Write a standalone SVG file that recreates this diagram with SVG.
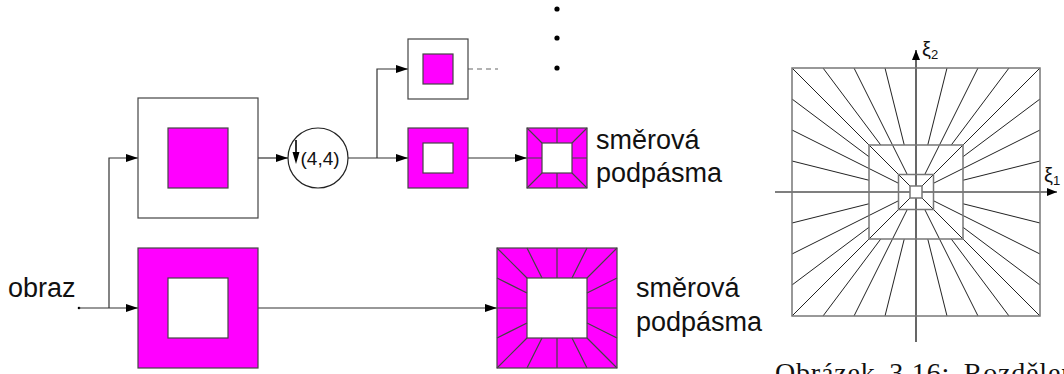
<svg xmlns="http://www.w3.org/2000/svg" width="1064" height="374" viewBox="0 0 1064 374">
  <style>
    .wire { fill: none; stroke: #333; stroke-width: 1.2; }
    .dash { fill: none; stroke: #666; stroke-width: 1.2; stroke-dasharray: 5 4; }
    .frame { stroke: #444; stroke-width: 1.2; }
    .pink { fill: #ff00ff; }
    .white { fill: #ffffff; }
    .ray { stroke: #222; stroke-width: 1; fill: none; }
    .sq { fill: none; stroke: #777; stroke-width: 1.5; }
    .lbl { font-family: "Liberation Sans", Arial, sans-serif; fill: #111; }
    .cap { font-family: "Liberation Serif", "Times New Roman", serif; fill: #111; }
  </style>
  <defs>
    <marker id="arr" viewBox="0 0 12 8" refX="12" refY="4" markerWidth="12" markerHeight="8" markerUnits="userSpaceOnUse" orient="auto">
      <path d="M0,0 L12,4 L0,8 Z" fill="#000"/>
    </marker>
    <marker id="arrS" viewBox="0 0 10 8" refX="10" refY="4" markerWidth="10" markerHeight="8" markerUnits="userSpaceOnUse" orient="auto">
      <path d="M0,0 L10,4 L0,8 Z" fill="#000"/>
    </marker>
  </defs>

  <rect width="1064" height="374" fill="#fff"/>

  <!-- signal flow -->
  <g id="connectors">
    <circle cx="79" cy="308" r="1.3" fill="#000"/>
    <path class="wire" d="M79,308 H138" marker-end="url(#arr)"/>
    <path class="wire" d="M109,308 V158 H138" marker-end="url(#arr)"/>
    <path class="wire" d="M258,158 H288" marker-end="url(#arr)"/>
    <path class="wire" d="M348,158 H408" marker-end="url(#arr)"/>
    <path class="wire" d="M377,158 V69 H408" marker-end="url(#arr)"/>
    <path class="wire" d="M468,158 H527" marker-end="url(#arr)"/>
    <path class="wire" d="M258,308 H497" marker-end="url(#arr)"/>
    <path class="dash" d="M468,69 H498"/>
  </g>

  <!-- continuation dots -->
  <g id="dots" fill="#000">
    <circle cx="557" cy="9" r="2.6"/>
    <circle cx="557" cy="38" r="2.6"/>
    <circle cx="557" cy="68" r="2.6"/>
  </g>

  <g id="lowpass">
    <rect class="white frame" x="138" y="98" width="120" height="120"/>
    <rect class="pink frame" x="168" y="128" width="60" height="60"/>
  </g>

  <g id="bandpass">
    <rect class="pink frame" x="138" y="248" width="120" height="120"/>
    <rect class="white frame" x="168" y="278" width="60" height="60"/>
  </g>

  <g id="downsample">
    <circle cx="318" cy="158" r="30" fill="#fff" stroke="#222" stroke-width="1.2"/>
    <path d="M296,140 V156" stroke="#000" stroke-width="1.6"/>
    <path d="M292.5,152 L296,164 L299.5,152 Z" fill="#000"/>
    <text class="lbl" x="300.5" y="164.5" font-size="19">(4,4)</text>
  </g>

  <g id="lowpass2">
    <rect class="white frame" x="408" y="39" width="60" height="60"/>
    <rect class="pink frame" x="423" y="54" width="30" height="30"/>
  </g>

  <g id="bandpass2">
    <rect class="pink frame" x="408" y="128" width="60" height="60"/>
    <rect class="white frame" x="423" y="143" width="30" height="30"/>
  </g>

  <g id="dfb-small">
    <rect class="pink frame" x="527" y="128" width="60" height="60"/>
    <rect class="white frame" x="542" y="143" width="30" height="30"/>
    <path class="frame" fill="none" d="M527,128 L542,143 M587,128 L572,143 M527,188 L542,173 M587,188 L572,173 M557,128 V143 M557,173 V188 M527,158 H542 M572,158 H587"/>
    <text class="lbl" x="596" y="149" font-size="27">směrová</text>
    <text class="lbl" x="596" y="182" font-size="27">podpásma</text>
  </g>

  <g id="dfb-large">
    <rect class="pink frame" x="497" y="248" width="120" height="120"/>
    <rect class="white frame" x="527" y="278" width="60" height="60"/>
    <path class="frame" fill="none" d="M497,248 L527,278 M527,248 L542,278 M557,248 L557,278 M587,248 L572,278 M617,248 L587,278
      M497,368 L527,338 M527,368 L542,338 M557,368 L557,338 M587,368 L572,338 M617,368 L587,338
      M497,278 L527,293 M497,308 L527,308 M497,338 L527,323
      M617,278 L587,293 M617,308 L587,308 M617,338 L587,323"/>
    <text class="lbl" x="636" y="297" font-size="27">směrová</text>
    <text class="lbl" x="636" y="331" font-size="27">podpásma</text>
  </g>

  <g id="input-label">
    <text class="lbl" x="8" y="297" font-size="27">obraz</text>
  </g>

  <!-- frequency plane partition -->
  <g id="partition">
    <g class="ray">
      <!-- corner diagonals -->
      <path d="M792,68 L910,186 M1040,68 L922,186 M792,316 L910,198 M1040,316 L922,198"/>
      <!-- outer ring: 8 wedges per side -->
      <path d="M823,68 L880.75,145 M854,68 L892.5,145 M885,68 L904.25,145 M947,68 L927.75,145 M978,68 L939.5,145 M1009,68 L951.25,145"/>
      <path d="M823,316 L880.75,239 M854,316 L892.5,239 M885,316 L904.25,239 M947,316 L927.75,239 M978,316 L939.5,239 M1009,316 L951.25,239"/>
      <path d="M792,99 L869,156.75 M792,130 L869,168.5 M792,161 L869,180.25 M792,223 L869,203.75 M792,254 L869,215.5 M792,285 L869,227.25"/>
      <path d="M1040,99 L963,156.75 M1040,130 L963,168.5 M1040,161 L963,180.25 M1040,223 L963,203.75 M1040,254 L963,215.5 M1040,285 L963,227.25"/>
      <!-- middle ring: 4 wedges per side -->
      <path d="M892.5,145 L907.25,174.5 M939.5,145 L924.75,174.5 M892.5,239 L907.25,209.5 M939.5,239 L924.75,209.5"/>
      <path d="M869,168.5 L898.5,183.25 M869,215.5 L898.5,200.75 M963,168.5 L933.5,183.25 M963,215.5 L933.5,200.75"/>
    </g>
    <path d="M916,342 V50" stroke="#000" stroke-width="1.2" marker-end="url(#arrS)"/>
    <path d="M775,192 H1057" stroke="#000" stroke-width="1.2" marker-end="url(#arrS)"/>
    <rect class="sq" x="792" y="68" width="248" height="248"/>
    <rect class="sq" x="869" y="145" width="94" height="94"/>
    <rect class="sq" x="898.5" y="174.5" width="35" height="35"/>
    <rect class="sq" x="910" y="186" width="12" height="12" style="fill:#fff"/>
    <text class="lbl" x="922" y="56" font-size="20">ξ<tspan font-size="13" dy="3">2</tspan></text>
    <text class="lbl" x="1044" y="182" font-size="20">ξ<tspan font-size="13" dy="3">1</tspan></text>
  </g>

  <text class="cap" x="775" y="382" font-size="28" letter-spacing="0.8" word-spacing="6">Obrázek 3.16: Rozdělení</text>
</svg>
